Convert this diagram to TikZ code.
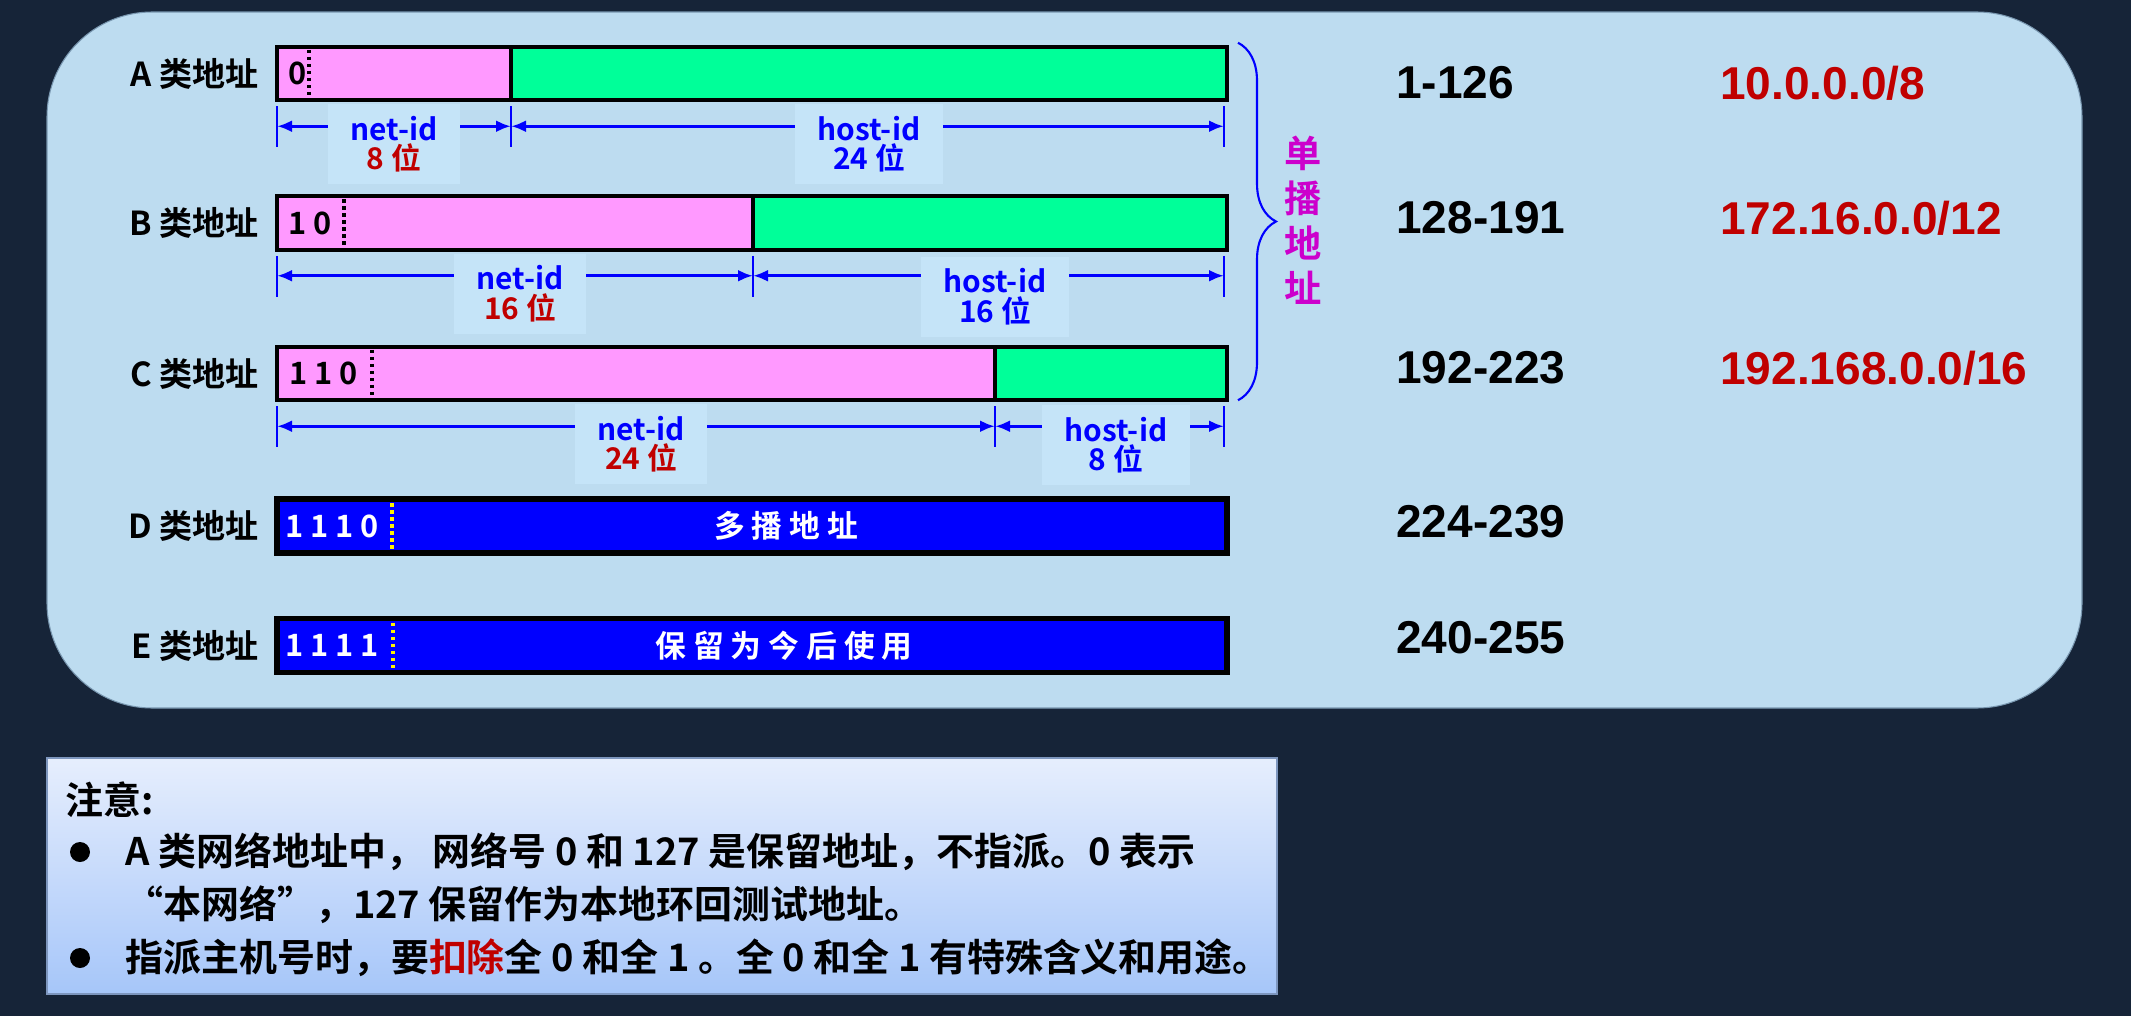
\documentclass[tikz,border=0pt]{standalone}
\usepackage{fontspec}
\setmainfont{Noto Sans CJK SC}[BoldFont=* Bold]
\newfontfamily\numfont{Liberation Sans}
\usetikzlibrary{positioning, calc, arrows.meta, decorations.pathreplacing}
\definecolor{navybg}{RGB}{22, 36, 56}
\definecolor{panelblue}{RGB}{189, 220, 240}
\definecolor{paneledge}{RGB}{120, 150, 175}
\definecolor{labelblue}{RGB}{197, 228, 248}
\definecolor{netpink}{RGB}{255, 153, 255}
\definecolor{hostgreen}{RGB}{0, 255, 153}
\definecolor{pureblue}{RGB}{0, 0, 255}
\definecolor{darkred}{RGB}{192, 0, 0}
\definecolor{unimagenta}{RGB}{204, 0, 204}
\definecolor{notetop}{RGB}{230, 238, 253}
\definecolor{notebottom}{RGB}{166, 198, 249}
\definecolor{noteedge}{RGB}{125, 150, 190}

\begin{document}
\begin{tikzpicture}[
    font=\bfseries,
    panel/.style={draw=paneledge, fill=panelblue, rounded corners=2.1cm, line width=0.6pt},
    barpart/.style={rectangle, draw=black, line width=2.2pt, minimum height=1.07cm, inner sep=0pt, outer sep=0pt, anchor=west},
    netpart/.style={barpart, fill=netpink},
    hostpart/.style={barpart, fill=hostgreen},
    fullbar/.style={barpart, fill=pureblue, line width=3.4pt, minimum width=19cm, minimum height=1.08cm},
    bittext/.style={anchor=west, inner sep=0pt, font=\fontsize{17.5}{20}\selectfont\bfseries},
    bitsep/.style={line width=2.2pt, dash pattern=on 2pt off 2pt},
    rowlabel/.style={inner sep=0pt, font=\fontsize{18.8}{22}\selectfont\bfseries},
    dimtick/.style={pureblue, line width=1.1pt},
    dimline/.style={pureblue, line width=1.9pt, {Latex[length=0.3cm, width=0.24cm]}-{Latex[length=0.3cm, width=0.24cm]}},
    dimlabel/.style={fill=labelblue, text=pureblue, align=center, inner xsep=0.46cm, inner ysep=0pt, minimum height=1.6cm, font=\fontsize{17}{17}\selectfont\bfseries},
    bartext/.style={text=white, inner sep=0pt, font=\fontsize{17.5}{20}\selectfont\bfseries},
    unibrace/.style={decorate, decoration={brace, amplitude=0.76cm}, pureblue, line width=1.2pt},
    unilabel/.style={text=unimagenta, align=center, inner sep=0pt, font=\fontsize{21.2}{25.6}\selectfont\bfseries},
    rangelabel/.style={anchor=west, inner sep=0pt, font=\numfont\fontsize{26.2}{30}\selectfont\bfseries},
    privlabel/.style={rangelabel, text=darkred},
    notebox/.style={draw=noteedge, line width=0.8pt, top color=notetop, bottom color=notebottom},
    notetext/.style={anchor=west, inner sep=0pt, font=\fontsize{21.6}{26}\selectfont\bfseries},
    notedot/.style={circle, fill=black, minimum size=0.4cm, inner sep=0pt}
]

    % background and panel
    \fill[navybg] (0, 0) rectangle (42.62, -20.32);
    \draw[panel] (0.94, -0.24) rectangle (41.64, -14.16);

    % ---------------- address bars ----------------
    \node[netpart, minimum width=4.68cm] (Anet) at (5.54, -1.47) {};
    \node[hostpart, minimum width=14.32cm, right=0pt of Anet] (Ahost) {};
    \node[netpart, minimum width=9.52cm] (Bnet) at (5.54, -4.46) {};
    \node[hostpart, minimum width=9.48cm, right=0pt of Bnet] (Bhost) {};
    \node[netpart, minimum width=14.36cm] (Cnet) at (5.54, -7.47) {};
    \node[hostpart, minimum width=4.64cm, right=0pt of Cnet] (Chost) {};
    \node[fullbar] (Dbar) at (5.54, -10.52) {};
    \node[fullbar] (Ebar) at (5.54, -12.91) {};

    % leading bits
    \node[bittext] (Abits) at ($(Anet.west) + (0.22, 0)$) {0};
    \node[bittext] (Bbits) at ($(Bnet.west) + (0.22, 0)$) {1 0};
    \node[bittext] (Cbits) at ($(Cnet.west) + (0.24, 0)$) {1 1 0};
    \node[bittext, text=white] (Dbits) at ($(Dbar.west) + (0.16, 0)$) {1 1 1 0};
    \node[bittext, text=white] (Ebits) at ($(Ebar.west) + (0.16, 0)$) {1 1 1 1};

    \draw[bitsep] ($(Anet.north west) + (0.64, -0.06)$) -- ($(Anet.south west) + (0.64, 0.06)$);
    \draw[bitsep] ($(Bnet.north west) + (1.34, -0.06)$) -- ($(Bnet.south west) + (1.34, 0.06)$);
    \draw[bitsep] ($(Cnet.north west) + (1.90, -0.06)$) -- ($(Cnet.south west) + (1.90, 0.06)$);
    \draw[bitsep, yellow] ($(Dbar.north west) + (2.30, -0.08)$) -- ($(Dbar.south west) + (2.30, 0.08)$);
    \draw[bitsep, yellow] ($(Ebar.north west) + (2.32, -0.08)$) -- ($(Ebar.south west) + (2.32, 0.08)$);

    \node[bartext] (Dtext) at ($(Dbar.center) + (0.68, 0)$) {多 播 地 址};
    \node[bartext] (Etext) at ($(Ebar.center) + (0.64, 0)$) {保 留 为 今 后 使 用};

    % row labels
    \node[rowlabel, left=0.36cm of Anet] (Alabel) {A 类地址};
    \node[rowlabel, left=0.36cm of Bnet] (Blabel) {B 类地址};
    \node[rowlabel, left=0.36cm of Cnet] (Clabel) {C 类地址};
    \node[rowlabel, left=0.36cm of Dbar] (Dlabel) {D 类地址};
    \node[rowlabel, left=0.36cm of Ebar] (Elabel) {E 类地址};

    % ---------------- dimension lines ----------------
    \foreach \r in {A, B, C} {
        \coordinate (\r a) at ($(\r net.south west) + (0, -0.52)$);
        \coordinate (\r b) at ($(\r net.south east) + (0, -0.52)$);
        \coordinate (\r c) at ($(\r host.south east) + (0, -0.52)$);
        \draw[dimtick] ($(\r net.south west) + (0, -0.12)$) -- ++(0, -0.82);
        \draw[dimtick] ($(\r net.south east) + (0, -0.12)$) -- ++(0, -0.82);
        \draw[dimtick] ($(\r host.south east) + (-0.06, -0.12)$) -- ++(0, -0.82);
        \draw[dimline] (\r a) -- (\r b);
        \draw[dimline] (\r b) -- ($(\r c) + (-0.06, 0)$);
    }

    \node[dimlabel] (Anetlbl) at ($(Aa)!0.5!(Ab) + (0, -0.36)$) {net-id\\\textcolor{darkred}{8 位}};
    \node[dimlabel] (Ahostlbl) at ($(Ab)!0.5!(Ac) + (0, -0.36)$) {host-id\\24 位};
    \node[dimlabel] (Bnetlbl) at ($(Ba)!0.5!(Bb) + (0.1, -0.36)$) {net-id\\\textcolor{darkred}{16 位}};
    \node[dimlabel] (Bhostlbl) at ($(Bb)!0.5!(Bc) + (0.1, -0.42)$) {host-id\\16 位};
    \node[dimlabel] (Cnetlbl) at ($(Ca)!0.5!(Cb) + (0.1, -0.36)$) {net-id\\\textcolor{darkred}{24 位}};
    \node[dimlabel] (Chostlbl) at ($(Cb)!0.5!(Cc) + (0.1, -0.38)$) {host-id\\8 位};

    % unicast brace
    \draw[unibrace] ($(Ahost.north east) + (0.22, 0.08)$) -- ($(Chost.south east) + (0.22, 0)$);
    \node[unilabel] (uni) at (26.06, -4.41) {单\\播\\地\\址};

    % ---------------- ranges and private blocks ----------------
    \node[rangelabel] (Arange) at (27.92, -1.66) {1-126};
    \node[rangelabel] (Brange) at (27.92, -4.36) {128-191};
    \node[rangelabel] (Crange) at (27.92, -7.36) {192-223};
    \node[rangelabel] (Drange) at (27.92, -10.44) {224-239};
    \node[rangelabel] (Erange) at (27.92, -12.76) {240-255};

    \node[privlabel] (Apriv) at (34.40, -1.66) {10.0.0.0/8};
    \node[privlabel] (Bpriv) at (34.40, -4.36) {172.16.0.0/12};
    \node[privlabel] (Cpriv) at (34.40, -7.36) {192.168.0.0/16};

    % ---------------- note box ----------------
    \draw[notebox] (0.94, -15.16) rectangle (25.54, -19.88);
    \node[notetext] (notetitle) at (1.30, -16.0) {注意:};
    \node[notedot] (dot1) at (1.60, -17.04) {};
    \node[notedot] (dot2) at (1.60, -19.16) {};
    \node[notetext] (note1) at (2.50, -17.04) {A 类网络地址中， 网络号 0 和 127 是保留地址，不指派。0 表示};
    \node[notetext] (note1b) at (2.50, -18.10) {“本网络”，127 保留作为本地环回测试地址。};
    \node[notetext] (note2) at (2.50, -19.16) {指派主机号时，要\textcolor{darkred}{扣除}全 0 和全 1 。全 0 和全 1 有特殊含义和用途。};

\end{tikzpicture}
\end{document}
